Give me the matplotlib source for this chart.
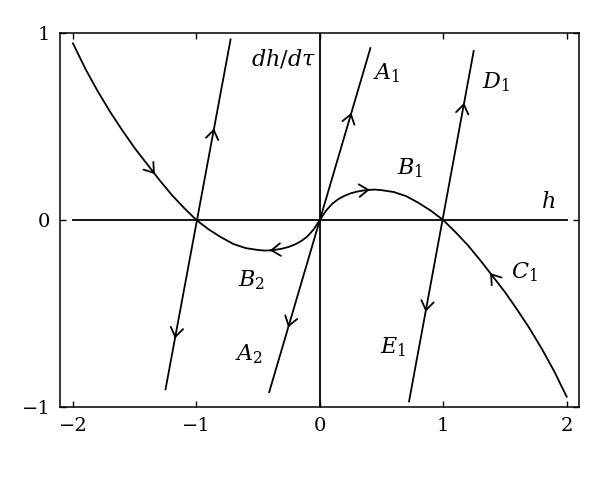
import matplotlib.pyplot as plt
import numpy as np

plt.rcParams["font.family"] = "DejaVu Serif"
plt.rcParams["mathtext.fontset"] = "dejavuserif"

# curve dh/dtau against h
curve_h = [-2.0, -1.9, -1.8, -1.7, -1.6, -1.5, -1.4, -1.3, -1.2, -1.1, -1.0,
           -0.9, -0.8, -0.7, -0.6, -0.5, -0.45, -0.4, -0.35, -0.3, -0.25, -0.2, -0.15, -0.1, -0.05, 0.0,
           0.05, 0.1, 0.15, 0.2, 0.25, 0.3, 0.35, 0.4, 0.45, 0.5, 0.6, 0.7, 0.8, 0.9, 1.0,
           1.1, 1.2, 1.3, 1.4, 1.5, 1.6, 1.7, 1.8, 1.9, 2.0]
curve_y = [0.945, 0.81, 0.69, 0.58, 0.48, 0.385, 0.30, 0.215, 0.135, 0.065, 0.0,
           -0.05, -0.092, -0.128, -0.150, -0.160, -0.163, -0.162, -0.158, -0.152, -0.143, -0.130, -0.112, -0.087, -0.05, 0.0,
           0.05, 0.087, 0.112, 0.130, 0.143, 0.152, 0.158, 0.162, 0.163, 0.160, 0.150, 0.128, 0.092, 0.05, 0.0,
           -0.065, -0.135, -0.215, -0.30, -0.385, -0.48, -0.58, -0.69, -0.81, -0.945]

# straight trajectories: (h_bottom, y_bottom, h_top, y_top)
lines = [
    (-1.25, -0.905, -0.723, 0.966),
    (-0.41, -0.92, 0.41, 0.92),
    (0.723, -0.97, 1.247, 0.905),
]
# arrow positions on lines (y of chevron tip, direction +1 up / -1 down)
line_arrows = [
    [(0.49, 1), (-0.633, -1)],
    [(0.574, 1), (-0.574, -1)],
    [(0.627, 1), (-0.49, -1)],
]
# arrow positions on the curve (h of chevron tip, direction in h)
curve_arrows = [(-1.336, 1), (-0.405, -1), (0.405, 1), (1.38, -1)]

labels = [
    ("$A_1$", 0.54, 0.785), ("$D_1$", 1.43, 0.74), ("$B_1$", 0.73, 0.276),
    ("$B_2$", -0.553, -0.32), ("$A_2$", -0.572, -0.72), ("$E_1$", 0.594, -0.68),
    ("$C_1$", 1.66, -0.28),
]

fig = plt.figure(figsize=(6, 4.8), dpi=100)
ax = fig.add_axes([0.1, 0.152, 0.865, 0.779])

lw = 1.3
aprops = dict(arrowstyle="->,head_length=0.65,head_width=0.45", color="black", lw=lw,
              shrinkA=0, shrinkB=0)

ax.plot(curve_h, curve_y, color="black", lw=lw)
for (h0, y0, h1, y1), arrs in zip(lines, line_arrows):
    ax.plot([h0, h1], [y0, y1], color="black", lw=lw)
    for ya, d in arrs:
        ha = np.interp(ya, [y0, y1], [h0, h1])
        hb = np.interp(ya - d * 0.02, [y0, y1], [h0, h1])
        ax.annotate("", xy=(ha, ya), xytext=(hb, ya - d * 0.02), arrowprops=aprops)

for ha, d in curve_arrows:
    ya = np.interp(ha, curve_h, curve_y)
    hb = ha - d * 0.01
    yb = np.interp(hb, curve_h, curve_y)
    ax.annotate("", xy=(ha, ya), xytext=(hb, yb), arrowprops=aprops)

# axes through the origin
ax.plot([-2, 2], [0, 0], color="black", lw=lw)
ax.axvline(0, color="black", lw=lw)

for txt, x, y in labels:
    ax.text(x, y, txt, fontsize=16, ha="center", va="center")
ax.text(-0.03, 0.86, r"$dh/d\tau$", fontsize=16, ha="right", va="center")
ax.text(1.85, 0.098, "$h$", fontsize=16, ha="center", va="center")

ax.set_xlim(-2.105, 2.1)
ax.set_ylim(-1, 1)
ax.set_xticks([-2, -1, 0, 1, 2])
ax.set_yticks([-1, 0, 1])
ax.set_xticklabels(["\u22122", "\u22121", "0", "1", "2"])
ax.set_yticklabels(["\u22121", "0", "1"])
ax.tick_params(direction="in", length=4, width=1, labelsize=14, top=True, right=True, pad=7)
for s in ax.spines.values():
    s.set_linewidth(1.1)

plt.savefig("out.png", dpi=100)
plt.close()
